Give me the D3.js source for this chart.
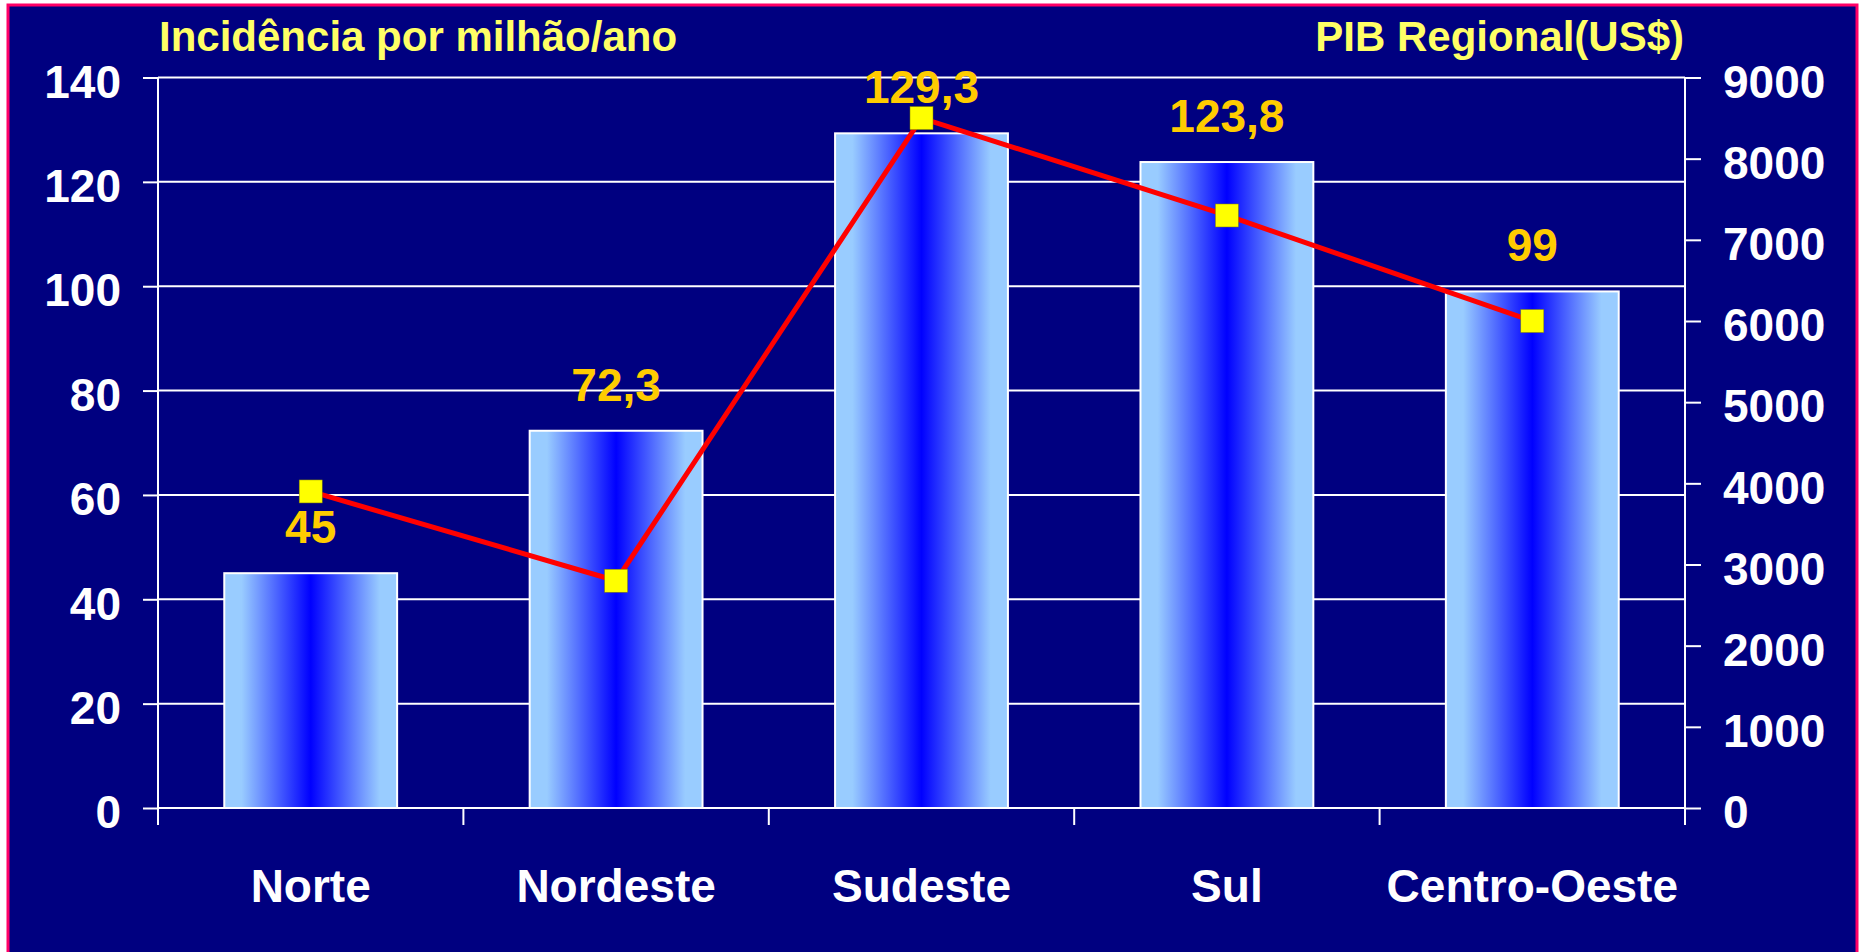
<!DOCTYPE html>
<html>
<head>
  <meta charset="utf-8">
  <style>
    html, body { margin: 0; padding: 0; background: #ffffff; }
    text { font-family: "Liberation Sans", Arial, sans-serif; font-weight: bold; }
  </style>
</head>
<body>
  <svg id="chart" width="1862" height="952"></svg>
  <script src="https://d3js.org/d3.v7.min.js"></script>
  <script>
    const regioes = ['Norte', 'Nordeste', 'Sudeste', 'Sul', 'Centro-Oeste']
    const incidencia = [45, 72.3, 129.3, 123.8, 99]
    const rotulos = ['45', '72,3', '129,3', '123,8', '99']
    const pib = [3900, 2800, 8500, 7300, 6000]
    const ticksEsq = [0, 20, 40, 60, 80, 100, 120, 140]
    const ticksDir = [0, 1000, 2000, 3000, 4000, 5000, 6000, 7000, 8000, 9000]

    const xEsq = 158, xDir = 1685, yTopo = 77.5, yBase = 808
    const svg = d3.select('#chart')

    // fundo azul com moldura rosa
    svg.append('rect')
      .attr('x', 8).attr('y', 5).attr('width', 1849).attr('height', 970)
      .attr('fill', '#000080').attr('stroke', '#ff0066').attr('stroke-width', 3)

    const defs = svg.append('defs')
    const grad = defs.append('linearGradient').attr('id', 'barra')
      .attr('x1', '0%').attr('x2', '100%').attr('y1', '0%').attr('y2', '0%')
    ;[[0, '#99ccff'], [0.1, '#99ccff'], [0.5, '#0000ff'], [0.9, '#99ccff'], [1, '#99ccff']]
      .forEach(s => grad.append('stop').attr('offset', s[0]).attr('stop-color', s[1]))

    const x = d3.scaleBand().domain(regioes).range([xEsq, xDir])
      .paddingInner(0.434).paddingOuter(0.217)
    const yL = d3.scaleLinear().domain([0, 140]).range([yBase, yTopo])
    const yR = d3.scaleLinear().domain([0, 9000]).range([yBase, yTopo])

    // linhas de grade
    svg.append('g').selectAll('line').data(ticksEsq).enter()
      .append('line')
      .attr('x1', xEsq).attr('x2', xDir)
      .attr('y1', d => yL(d)).attr('y2', d => yL(d))
      .attr('stroke', '#ffffff').attr('stroke-width', 2)

    // eixo esquerdo
    const axL = svg.append('g').attr('transform', `translate(${xEsq},0)`)
      .call(d3.axisLeft(yL).tickValues(ticksEsq).tickSize(15).tickSizeOuter(0).tickPadding(22))
    axL.select('.domain').remove()
    axL.selectAll('line').attr('stroke', '#fff').attr('stroke-width', 2)
    axL.selectAll('text').attr('fill', '#fff').attr('font-size', 46).attr('dy', '0.43em')
      .style('font-family', '"Liberation Sans", Arial, sans-serif').style('font-weight', 'bold')

    // eixo direito
    const axR = svg.append('g').attr('transform', `translate(${xDir},0)`)
      .call(d3.axisRight(yR).tickValues(ticksDir).tickFormat(d3.format('d'))
        .tickSize(16).tickSizeOuter(0).tickPadding(22))
    axR.select('.domain').remove()
    axR.selectAll('line').attr('stroke', '#fff').attr('stroke-width', 2)
    axR.selectAll('text').attr('fill', '#fff').attr('font-size', 46).attr('dy', '0.43em')
      .style('font-family', '"Liberation Sans", Arial, sans-serif').style('font-weight', 'bold')

    // linhas verticais dos eixos
    ;[xEsq, xDir].forEach(px => svg.append('line')
      .attr('x1', px).attr('x2', px).attr('y1', yTopo).attr('y2', yBase + 17)
      .attr('stroke', '#fff').attr('stroke-width', 2))

    // marcas entre categorias
    const limites = regioes.map(r => x(r) + x.bandwidth() / 2 - x.step() / 2)
    limites.push(xDir)
    svg.append('g').selectAll('line').data(limites).enter()
      .append('line')
      .attr('x1', d => d).attr('x2', d => d)
      .attr('y1', yBase).attr('y2', yBase + 17)
      .attr('stroke', '#fff').attr('stroke-width', 2)

    // barras
    svg.append('g').selectAll('rect').data(incidencia).enter()
      .append('rect')
      .attr('x', (d, i) => x(regioes[i]))
      .attr('y', d => yL(d))
      .attr('width', x.bandwidth())
      .attr('height', d => yL(0) - yL(d))
      .attr('fill', 'url(#barra)')
      .attr('stroke', '#ffffff').attr('stroke-width', 2)

    // rótulos das categorias
    svg.append('g').selectAll('text').data(regioes).enter()
      .append('text')
      .attr('x', d => x(d) + x.bandwidth() / 2)
      .attr('y', 902)
      .attr('text-anchor', 'middle')
      .attr('fill', '#fff').attr('font-size', 46)
      .text(d => d)

    // linha do PIB
    const cx = i => x(regioes[i]) + x.bandwidth() / 2
    svg.append('path')
      .datum(pib)
      .attr('d', d3.line().x((d, i) => cx(i)).y(d => yR(d)))
      .attr('fill', 'none').attr('stroke', '#ff0000').attr('stroke-width', 5)

    svg.append('g').selectAll('rect').data(pib).enter()
      .append('rect')
      .attr('x', (d, i) => cx(i) - 11.5)
      .attr('y', d => yR(d) - 11.5)
      .attr('width', 23).attr('height', 23)
      .attr('fill', '#ffff00')
      .attr('stroke', '#808000').attr('stroke-width', 0.5)

    // valores das barras
    svg.append('g').selectAll('text').data(incidencia).enter()
      .append('text')
      .attr('x', (d, i) => cx(i))
      .attr('y', d => yL(d) - 30)
      .attr('text-anchor', 'middle')
      .attr('fill', '#ffcc00').attr('font-size', 46)
      .text((d, i) => rotulos[i])

    // títulos dos eixos
    svg.append('text')
      .attr('x', xEsq + 1).attr('y', 51)
      .attr('fill', '#ffff66').attr('font-size', 42)
      .text('Incidência por milhão/ano')
    svg.append('text')
      .attr('x', xDir - 1).attr('y', 51)
      .attr('text-anchor', 'end')
      .attr('fill', '#ffff66').attr('font-size', 42)
      .text('PIB Regional(US$)')
  </script>
</body>
</html>
